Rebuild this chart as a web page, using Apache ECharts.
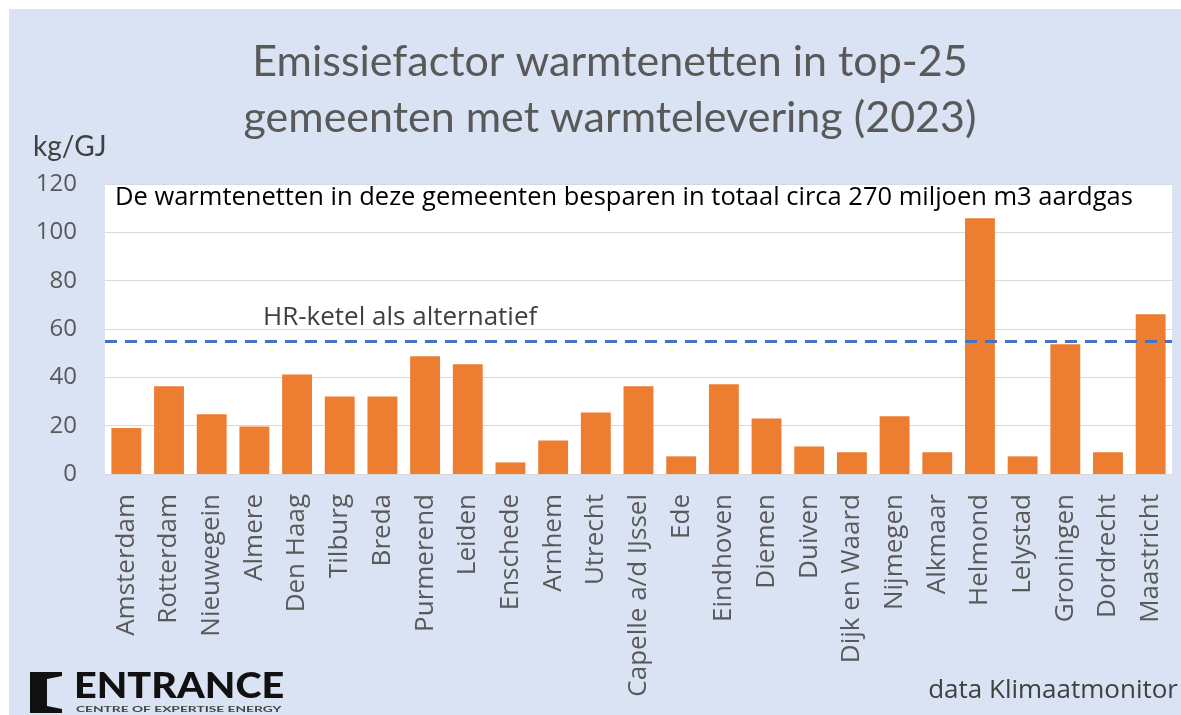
<!DOCTYPE html>
<html><head><meta charset="utf-8">
<script src="https://cdn.jsdelivr.net/npm/echarts@6/dist/echarts.min.js"></script>
<style>html,body{margin:0;padding:0;background:#fff}#c{width:1181px;height:715px}</style>
</head><body><div id="c"></div>
<script>
const categories = ["Amsterdam","Rotterdam","Nieuwegein","Almere","Den Haag","Tilburg","Breda","Purmerend","Leiden","Enschede","Arnhem","Utrecht","Capelle a/d IJssel","Ede","Eindhoven","Diemen","Duiven","Dijk en Waard","Nijmegen","Alkmaar","Helmond","Lelystad","Groningen","Dordrecht","Maastricht"];
const emissionValues = [19.0,36.3,24.7,19.7,41.2,32.1,32.1,48.7,45.4,4.8,13.9,25.5,36.3,7.3,37.1,23.0,11.4,9.0,23.9,9.0,105.8,7.3,53.7,9.0,66.1];
const hrKetelValue = 55;
const yTicks = [0,20,40,60,80,100,120];
const titleLines = ["Emissiefactor warmtenetten in top-25","gemeenten met warmtelevering (2023)"];
const annotation = "De warmtenetten in deze gemeenten besparen in totaal circa 270 miljoen m3 aardgas";
const hrLabel = "HR-ketel als alternatief";
const unitLabel = "kg/GJ";
const sourceLabel = "data Klimaatmonitor";

const TFONT = "Lato";
const FONT = "'Open Sans'";
const chart = echarts.init(document.getElementById('c'));
chart.setOption({
  backgroundColor: '#ffffff',
  animation: false,
  graphic: [
    {type:'rect', z:-10, shape:{x:9,y:9,width:1172,height:706}, style:{fill:'#DAE3F3'}},
    {type:'text', x:610, y:34, style:{text:titleLines.join('\n'), font:'43px '+TFONT, fill:'#595959', align:'center', verticalAlign:'top', lineHeight:56}},
    {type:'text', left:33, top:133, style:{text:unitLabel, font:'28px '+TFONT, fill:'#404040'}},
    {type:'text', left:115, top:185, z:10, style:{text:annotation, font:'25.5px '+FONT, fill:'#000000'}},
    {type:'text', left:263, top:305, z:10, style:{text:hrLabel, font:'26px '+FONT, fill:'#404040'}},
    {type:'text', right:3, top:678, style:{text:sourceLabel, font:'26px '+FONT, fill:'#404040'}},
    {type:'polygon', shape:{points:[[30,672],[62,672],[62,676],[47,679],[47,706],[62,709],[62,713],[30,713]]}, style:{fill:'#111'}},
    {type:'text', x:74, y:668, scaleX:1.1, style:{text:'ENTRANCE', font:'900 36px '+TFONT, fill:'#111', align:'left', verticalAlign:'top'}},
    {type:'text', x:76, y:705, scaleX:1.72, style:{text:'CENTRE OF EXPERTISE ENERGY', font:'bold 8px '+TFONT, fill:'#444', align:'left', verticalAlign:'top'}}
  ],
  grid: {left:105, right:9, top:184, bottom:241, show:true, backgroundColor:'#ffffff', borderWidth:0, containLabel:false, outerBoundsMode:'none'},
  xAxis: {
    type:'category', data:categories,
    axisLine:{show:true, lineStyle:{color:'#d9d9d9', width:1}},
    axisTick:{show:false},
    axisLabel:{rotate:90, interval:0, fontFamily:'Open Sans', fontSize:26, color:'#595959', margin:20}
  },
  yAxis: {
    type:'value', min:0, max:120, interval:20,
    axisLine:{show:false}, axisTick:{show:false},
    splitLine:{lineStyle:{color:'#d9d9d9', width:1}},
    axisLabel:{fontFamily:'Open Sans', fontSize:24, color:'#595959', margin:28, formatter: v => yTicks.includes(v) ? String(v) : ''}
  },
  series: [{
    type:'bar', data:emissionValues, barCategoryGap:'30%',
    itemStyle:{color:'#ED7D31'},
    markLine:{
      symbol:'none', silent:true, label:{show:false},
      lineStyle:{color:'#4472C4', width:3, type:[12,8]},
      data:[{yAxis:hrKetelValue}]
    }
  }]
});
</script></body></html>
